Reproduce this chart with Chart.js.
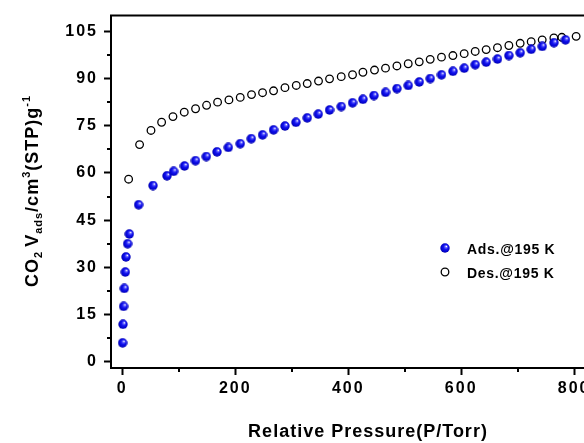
<!DOCTYPE html>
<html>
<head>
<meta charset="utf-8">
<script src="https://cdn.jsdelivr.net/npm/chart.js@4/dist/chart.umd.min.js"></script>
<style>
  html, body { margin: 0; padding: 0; background: #fff; overflow: hidden; }
  #wrap { width: 584px; height: 443px; overflow: hidden; position: relative; }
  #c { position: absolute; left: 0; top: 0; }
</style>
</head>
<body>
<div id="wrap"><canvas id="c" width="650" height="443"></canvas></div>
<script>
// CO2 isotherm at 195 K: adsorption and desorption branches
const adsPressure = [0.5, 1.2, 2.3, 3.5, 5.3, 6.5, 9.4, 12.4, 28.8, 54.3, 79.1, 90.8,
  110.1, 129.6, 148.7, 167.6, 187.6, 208.8, 228.3, 248.3, 267.8, 288,
  307.4, 327.4, 346.9, 366.9, 387.6, 407.6, 426, 445.5, 466, 486.2,
  506.2, 525.7, 545.1, 565.1, 585.3, 605.3, 624.8, 644.2, 664.2, 684.4,
  704.4, 723.9, 743.4, 764.1, 784.6];
const adsUptake = [6.0, 11.9, 17.6, 23.3, 28.5, 33.3, 37.5, 40.6, 49.9, 56.0, 59.1, 60.5,
  62.2, 63.9, 65.2, 66.7, 68.1, 69.3, 70.9, 72.1, 73.7, 74.9,
  76.1, 77.5, 78.7, 80.0, 81.1, 82.3, 83.4, 84.6, 85.6, 86.8,
  87.8, 88.9, 90.0, 91.2, 92.3, 93.3, 94.4, 95.2, 96.2, 97.3,
  98.2, 99.3, 100.2, 101.4, 102.3];

const desPressure = [11.2, 30.6, 50.8, 69.6, 89.7, 109.7, 129.7, 149.2, 168.7, 188.8,
  208.8, 228.8, 248.3, 267.8, 288, 308, 327.4, 347.4, 366.9, 387.6,
  407.6, 426, 446.5, 466, 486.2, 506.2, 525.7, 545.1, 565.1, 585.3,
  605.3, 624.8, 644.2, 664.2, 684.4, 704.4, 723.9, 743.4, 764.1, 778.2,
  803.5];
const desUptake = [58.0, 69.0, 73.5, 76.1, 77.9, 79.3, 80.4, 81.5, 82.5, 83.2,
  84.0, 84.9, 85.5, 86.1, 87.1, 87.8, 88.4, 89.2, 89.9, 90.6,
  91.2, 92.0, 92.7, 93.3, 94.0, 94.7, 95.3, 96.1, 96.8, 97.3,
  97.9, 98.6, 99.2, 99.8, 100.5, 101.2, 101.7, 102.3, 102.9, 103.1,
  103.4];

const xTickValues = [0, 200, 400, 600, 800];
const yTickValues = [0, 15, 30, 45, 60, 75, 90, 105];
const xMinorValues = [100, 300, 500, 700];
const yMinorValues = [7.5, 22.5, 37.5, 52.5, 67.5, 82.5, 97.5];
const seriesLabels = ['Ads.@195 K', 'Des.@195 K'];
const xTitle = 'Relative Pressure(P/Torr)';

const ink = '#000';
const FONT = "'Liberation Sans', Arial, sans-serif";

// shaded blue ball used as the adsorption marker
function makeSphere(d) {
  const c = document.createElement('canvas');
  c.width = d; c.height = d;
  const g = c.getContext('2d');
  const r = d / 2;
  const grad = g.createRadialGradient(r * 1.3, r * 0.65, 0.2, r, r, r);
  grad.addColorStop(0, '#ffffff');
  grad.addColorStop(0.2, '#6464ff');
  grad.addColorStop(0.45, '#1414f0');
  grad.addColorStop(0.85, '#0000c8');
  grad.addColorStop(1, '#000090');
  g.fillStyle = grad;
  g.beginPath(); g.arc(r, r, r - 0.3, 0, Math.PI * 2); g.fill();
  return c;
}
const sphere = makeSphere(10);

const toPoints = (xs, ys) => xs.map((v, i) => ({ x: v, y: ys[i] }));

// axis frame, minor ticks, axis titles and the legend box
const decorations = {
  id: 'decorations',
  beforeDraw(chart) { chart.ctx.letterSpacing = '2px'; },
  afterDraw(chart) {
    const { ctx, chartArea: a, scales: { x, y } } = chart;
    ctx.save();
    ctx.letterSpacing = '0px';
    ctx.strokeStyle = ink;
    ctx.lineWidth = 2;
    ctx.beginPath();
    ctx.moveTo(a.left - 1, a.top);
    ctx.lineTo(a.right, a.top);
    ctx.lineTo(a.right, a.bottom);
    ctx.stroke();

    ctx.beginPath();
    yMinorValues.forEach(v => {
      const p = Math.round(y.getPixelForValue(v));
      ctx.moveTo(a.left, p); ctx.lineTo(a.left - 4, p);
    });
    xMinorValues.forEach(v => {
      const p = Math.round(x.getPixelForValue(v));
      ctx.moveTo(p, a.bottom); ctx.lineTo(p, a.bottom + 4);
    });
    ctx.stroke();

    ctx.fillStyle = ink;
    // x title
    ctx.letterSpacing = '1px';
    ctx.font = `bold 18px ${FONT}`;
    ctx.textAlign = 'center';
    ctx.textBaseline = 'alphabetic';
    ctx.fillText(xTitle, 368, 437);

    // y title with sub/superscripts
    const big = `bold 18px ${FONT}`;
    const small = `bold 11px ${FONT}`;
    const parts = [
      { t: 'CO', f: big, dy: 0 },
      { t: '2', f: small, dy: 4 },
      { t: ' ', f: small, dy: 0 },
      { t: 'V', f: big, dy: 0 },
      { t: 'ads', f: small, dy: 4 },
      { t: '/cm', f: big, dy: 0 },
      { t: '3', f: small, dy: -8 },
      { t: '(STP)g', f: big, dy: 0 },
      { t: '-1', f: small, dy: -8 }
    ];
    ctx.textAlign = 'left';
    let total = 0;
    parts.forEach(p => { ctx.font = p.f; p.w = ctx.measureText(p.t).width; total += p.w; });
    ctx.save();
    ctx.translate(38, 191);
    ctx.rotate(-Math.PI / 2);
    let cx = -total / 2;
    parts.forEach(p => { ctx.font = p.f; ctx.fillText(p.t, cx, p.dy); cx += p.w; });
    ctx.restore();

    // legend
    const lx = 445, ly = [248, 272];
    ctx.drawImage(sphere, lx - 5, ly[0] - 5);
    ctx.lineWidth = 1.3;
    ctx.beginPath(); ctx.arc(lx, ly[1], 3.8, 0, Math.PI * 2); ctx.stroke();
    ctx.letterSpacing = '0.7px';
    ctx.font = `bold 14px ${FONT}`;
    ctx.textBaseline = 'middle';
    ctx.fillText(seriesLabels[0], 467, ly[0] + 2);
    ctx.fillText(seriesLabels[1], 467, ly[1] + 2);
    ctx.restore();
  }
};

const tickFont = { family: FONT, size: 16, weight: 'bold' };
const axisGrid = { drawOnChartArea: false, drawTicks: true, tickLength: 7, tickWidth: 2, tickColor: ink };
const axisBorder = { display: true, color: ink, width: 2 };

new Chart(document.getElementById('c'), {
  type: 'scatter',
  data: {
    datasets: [
      {
        label: seriesLabels[0],
        data: toPoints(adsPressure, adsUptake),
        pointStyle: sphere,
        pointRadius: 5,
        order: 0
      },
      {
        label: seriesLabels[1],
        data: toPoints(desPressure, desUptake),
        pointStyle: 'circle',
        pointRadius: 3.8,
        borderWidth: 1.3,
        borderColor: ink,
        backgroundColor: 'rgba(0,0,0,0)',
        order: 1
      }
    ]
  },
  options: {
    responsive: false,
    devicePixelRatio: 1,
    animation: false,
    layout: { padding: { left: 0, top: 12, right: 25, bottom: 0 } },
    plugins: { legend: { display: false }, tooltip: { enabled: false } },
    scales: {
      x: {
        type: 'linear', min: -20, max: 890,
        afterBuildTicks: s => { s.ticks = xTickValues.map(v => ({ value: v })); },
        afterFit: s => { s.height = 75; },
        ticks: { color: ink, font: tickFont, padding: 4, maxRotation: 0, autoSkip: false, callback: v => String(v) },
        grid: axisGrid,
        border: axisBorder
      },
      y: {
        type: 'linear', min: -2, max: 110,
        afterBuildTicks: s => { s.ticks = yTickValues.map(v => ({ value: v })); },
        afterFit: s => { s.width = 111; },
        ticks: { color: ink, font: tickFont, padding: 6, autoSkip: false, callback: v => String(v) },
        grid: axisGrid,
        border: axisBorder
      }
    }
  },
  plugins: [decorations]
});
</script>
</body>
</html>
